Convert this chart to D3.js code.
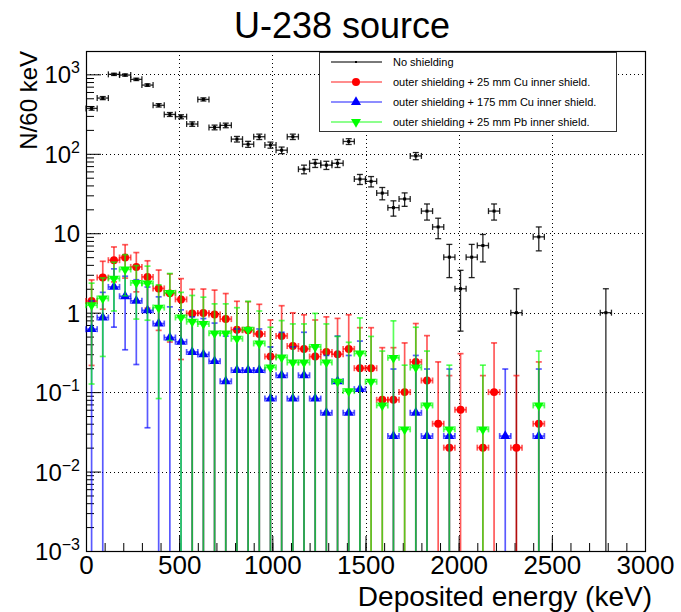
<!DOCTYPE html>
<html lang="en">
<head>
  <meta charset="UTF-8">
  <title>U-238 source</title>
  <script src="https://cdn.jsdelivr.net/npm/d3@7"></script>
  <style>
    body { margin: 0; background: #fff; }
    text { font-family: "Liberation Sans", Arial, Helvetica, sans-serif; }
  </style>
</head>
<body>
<script>
// bin width 60 keV, bin centres 30, 90, 150 ...
var binWidth = 60;

// No shielding (counts per bin, 0 = empty bin)
var noShield = [373, 503, 1000, 980, 865, 733, 408, 313, 293, 237,
                484, 215, 228, 153, 132, 164, 129, 111, 164, 64,
                76, 72, 76, 143, 48, 45, 32, 21, 27, 94,
                19, 12, 5, 2, 5, 7, 19, 0, 1, 0,
                9, 0, 0, 0, 0, 0, 1];

// outer shielding + 25 mm Cu inner shield
var cu25 = [1.40, 2.77, 4.58, 4.95, 3.77, 2.82, 2.02, 1.75, 1.47, 0.98,
            0.99, 0.95, 0.83, 0.61, 0.60, 0.54, 0.28, 0.51, 0.38, 0.35,
            0.28, 0.32, 0.30, 0.35, 0.20, 0.20, 0.08, 0.08, 0.10, 0.24,
            0.14, 0.04, 0.02, 0.06, 0, 0.02, 0.10, 0, 0.02, 0, 0.04];

// outer shielding + 175 mm Cu inner shield
var cu175 = [0.62, 0.87, 2.11, 1.61, 1.41, 1.07, 0.73, 0.487, 0.43, 0.32,
             0.298, 0.245, 0.137, 0.189, 0.189, 0.189, 0.083, 0.163, 0.083, 0.163,
             0.083, 0.055, 0.137, 0.055, 0.109, 0, 0, 0.028, 0, 0.055,
             0.028, 0, 0.028, 0, 0, 0, 0, 0.028, 0, 0, 0.028];

// outer shielding + 25 mm Pb inner shield
var pb25 = [1.24, 1.51, 2.69, 3.5, 2.37, 2.33, 1.16, 1.78, 0.87, 0.77,
            0.72, 0.55, 0.55, 0.47, 0.61, 0.41, 0.204, 0.273, 0.236, 0.236,
            0.371, 0.236, 0.135, 0.103, 0.306, 0.135, 0.068, 0.27, 0.034, 0.204,
            0.068, 0, 0.034, 0, 0, 0.034, 0, 0, 0, 0, 0.068];

var xTicks = [0, 500, 1000, 1500, 2000, 2500, 3000];
var yTicks = [1e-3, 1e-2, 1e-1, 1, 10, 100, 1000];
var yTickLabels = [["10", "\u22123"], ["10", "\u22122"], ["10", "\u22121"], ["1", ""], ["10", ""], ["10", "2"], ["10", "3"]];

var series = [
  {name: "No shielding", values: noShield, color: "#000", marker: "dot"},
  {name: "outer shielding + 25 mm Cu inner shield.", values: cu25, color: "#ff0000", marker: "circle"},
  {name: "outer shielding + 175 mm Cu inner shield.", values: cu175, color: "#0000ff", marker: "up"},
  {name: "outer shielding + 25 mm Pb inner shield.", values: pb25, color: "#00ff00", marker: "down"}
];

var W = 681, H = 612;
var mL = 86, mR = 645, mT = 51, mB = 551;

var svg = d3.select("body").append("svg")
  .attr("width", W)
  .attr("height", H);

var x = d3.scaleLinear().domain([0, 3000]).range([mL, mR]);
var y = d3.scaleLog().domain([1e-3, 1968]).range([mB, mT]);

// grid
var grid = svg.append("g").attr("stroke", "#000").attr("stroke-width", 1)
  .attr("stroke-dasharray", "1,3");
grid.selectAll(".gx").data(xTicks.slice(1, -1)).enter().append("line")
  .attr("x1", d => Math.round(x(d)) + 0.5).attr("x2", d => Math.round(x(d)) + 0.5)
  .attr("y1", mT).attr("y2", mB);
grid.selectAll(".gy").data(yTicks.slice(1)).enter().append("line")
  .attr("y1", d => Math.round(y(d)) + 0.5).attr("y2", d => Math.round(y(d)) + 0.5)
  .attr("x1", mL).attr("x2", mR);

// axes (ticks pointing inside, ROOT style)
var xMinor = d3.range(0, 3001, 100);
svg.append("g").attr("transform", "translate(0," + mB + ")")
  .call(d3.axisBottom(x).tickValues(xMinor).tickSize(-8).tickFormat(""))
  .call(g => g.select(".domain").remove());
var xAxis = svg.append("g").attr("transform", "translate(0," + mB + ")")
  .call(d3.axisBottom(x).tickValues(xTicks).tickSize(-15).tickPadding(5).tickFormat(d3.format("d")));
xAxis.select(".domain").remove();
xAxis.selectAll("text").attr("font-size", 26).attr("fill", "#000")
  .attr("font-family", "Liberation Sans, Arial, sans-serif");

var yMinor = [];
for (var e = -3; e < 4; e++) {
  for (var m = 2; m < 10; m++) {
    var v = m * Math.pow(10, e);
    if (v < 1968) yMinor.push(v);
  }
}
svg.append("g").attr("transform", "translate(" + mL + ",0)")
  .call(d3.axisLeft(y).tickValues(yMinor).tickSize(-8).tickFormat(""))
  .call(g => g.select(".domain").remove());
svg.append("g").attr("transform", "translate(" + mL + ",0)")
  .call(d3.axisLeft(y).tickValues(yTicks).tickSize(-15).tickFormat(""))
  .call(g => g.select(".domain").remove());

// y tick labels with superscripts
var yl = svg.append("g");
yTicks.forEach(function(t, i) {
  var lab = yTickLabels[i];
  var txt = yl.append("text")
    .attr("x", mL - 6)
    .attr("y", y(t) + 9)
    .attr("text-anchor", "end")
    .attr("font-size", 24);
  txt.append("tspan").text(lab[0]);
  if (lab[1]) {
    txt.append("tspan").attr("dy", -10).attr("font-size", 16).text(lab[1]);
  }
});

// frame
svg.append("rect")
  .attr("x", mL + 0.5).attr("y", mT + 0.5)
  .attr("width", mR - mL).attr("height", mB - mT)
  .attr("fill", "none").attr("stroke", "#000").attr("stroke-width", 1.2);

// data points with errors (err = sqrt(content))
var plot = svg.append("g");
var yMin = y.domain()[0];

function markerPath(type, size) {
  if (type === "circle") return d3.symbol().type(d3.symbolCircle).size(size)();
  if (type === "up" || type === "down") return d3.symbol().type(d3.symbolTriangle).size(size)();
  return d3.symbol().type(d3.symbolSquare).size(size)();
}

series.forEach(function(s) {
  var pts = s.values.map((v, i) => ({c: i * binWidth + binWidth / 2, v: v}))
    .filter(d => d.v > 0);
  var isBlack = s.marker === "dot";
  var g = plot.append("g")
    .attr("stroke", s.color)
    .attr("stroke-width", isBlack ? 1.3 : 1.7)
    .attr("stroke-opacity", isBlack ? 0.85 : 0.65);
  var cap = 3;

  pts.forEach(function(d) {
    var err = Math.sqrt(d.v);
    var hi = d.v + err;
    var lo = d.v - err;
    var px = x(d.c), py = y(d.v);
    var yHi = Math.max(y(hi), mT);
    var clippedLo = lo <= yMin;
    var yLo = clippedLo ? mB : y(lo);
    // vertical error
    g.append("line").attr("x1", px).attr("x2", px).attr("y1", yHi).attr("y2", yLo);
    g.append("line").attr("x1", px - cap).attr("x2", px + cap).attr("y1", yHi).attr("y2", yHi);
    if (!clippedLo) {
      g.append("line").attr("x1", px - cap).attr("x2", px + cap).attr("y1", yLo).attr("y2", yLo);
    }
    // horizontal bin width
    var x0 = x(d.c - binWidth / 2), x1 = x(d.c + binWidth / 2);
    g.append("line").attr("x1", x0).attr("x2", x1).attr("y1", py).attr("y2", py);
    g.append("line").attr("x1", x0).attr("x2", x0).attr("y1", py - cap).attr("y2", py + cap);
    g.append("line").attr("x1", x1).attr("x2", x1).attr("y1", py - cap).attr("y2", py + cap);
  });

  if (!isBlack) {
    plot.append("g").selectAll("path").data(pts).enter().append("path")
      .attr("d", markerPath(s.marker, s.marker === "circle" ? 50 : 44))
      .attr("transform", d => "translate(" + x(d.c) + "," + y(d.v) + ")" + (s.marker === "down" ? " rotate(180)" : ""))
      .attr("fill", s.color);
  } else {
    plot.append("g").selectAll("rect").data(pts).enter().append("rect")
      .attr("x", d => x(d.c) - 1.5).attr("y", d => y(d.v) - 1.5)
      .attr("width", 3).attr("height", 3).attr("fill", "#000");
  }
});

// legend
var lg = svg.append("g");
lg.append("rect").attr("x", 319.5).attr("y", 52.5).attr("width", 297).attr("height", 79)
  .attr("fill", "#fff").attr("stroke", "#333").attr("stroke-width", 1);
series.forEach(function(s, i) {
  var ly = 62 + i * 20;
  lg.append("line").attr("x1", 331).attr("x2", 382).attr("y1", ly).attr("y2", ly)
    .attr("stroke", s.color).attr("stroke-width", 1.6)
    .attr("stroke-opacity", s.marker === "dot" ? 0.7 : 0.6);
  if (s.marker === "dot") {
    lg.append("rect").attr("x", 355).attr("y", ly - 1).attr("width", 2).attr("height", 2).attr("fill", "#000");
  } else {
    lg.append("path")
      .attr("d", markerPath(s.marker, s.marker === "circle" ? 50 : 44))
      .attr("transform", "translate(356," + ly + ")" + (s.marker === "down" ? " rotate(180)" : ""))
      .attr("fill", s.color);
  }
  lg.append("text").attr("x", 393).attr("y", ly + 4).attr("font-size", 11).text(s.name);
});

// titles
svg.append("text").attr("x", 342).attr("y", 38).attr("text-anchor", "middle")
  .attr("font-size", 36).text("U-238 source");
svg.append("text").attr("x", 652).attr("y", 606).attr("text-anchor", "end")
  .attr("font-size", 28).text("Deposited energy (keV)");
svg.append("text").attr("transform", "translate(37," + mT + ") rotate(-90)")
  .attr("text-anchor", "end").attr("font-size", 24).text("N/60 keV");
</script>
</body>
</html>
